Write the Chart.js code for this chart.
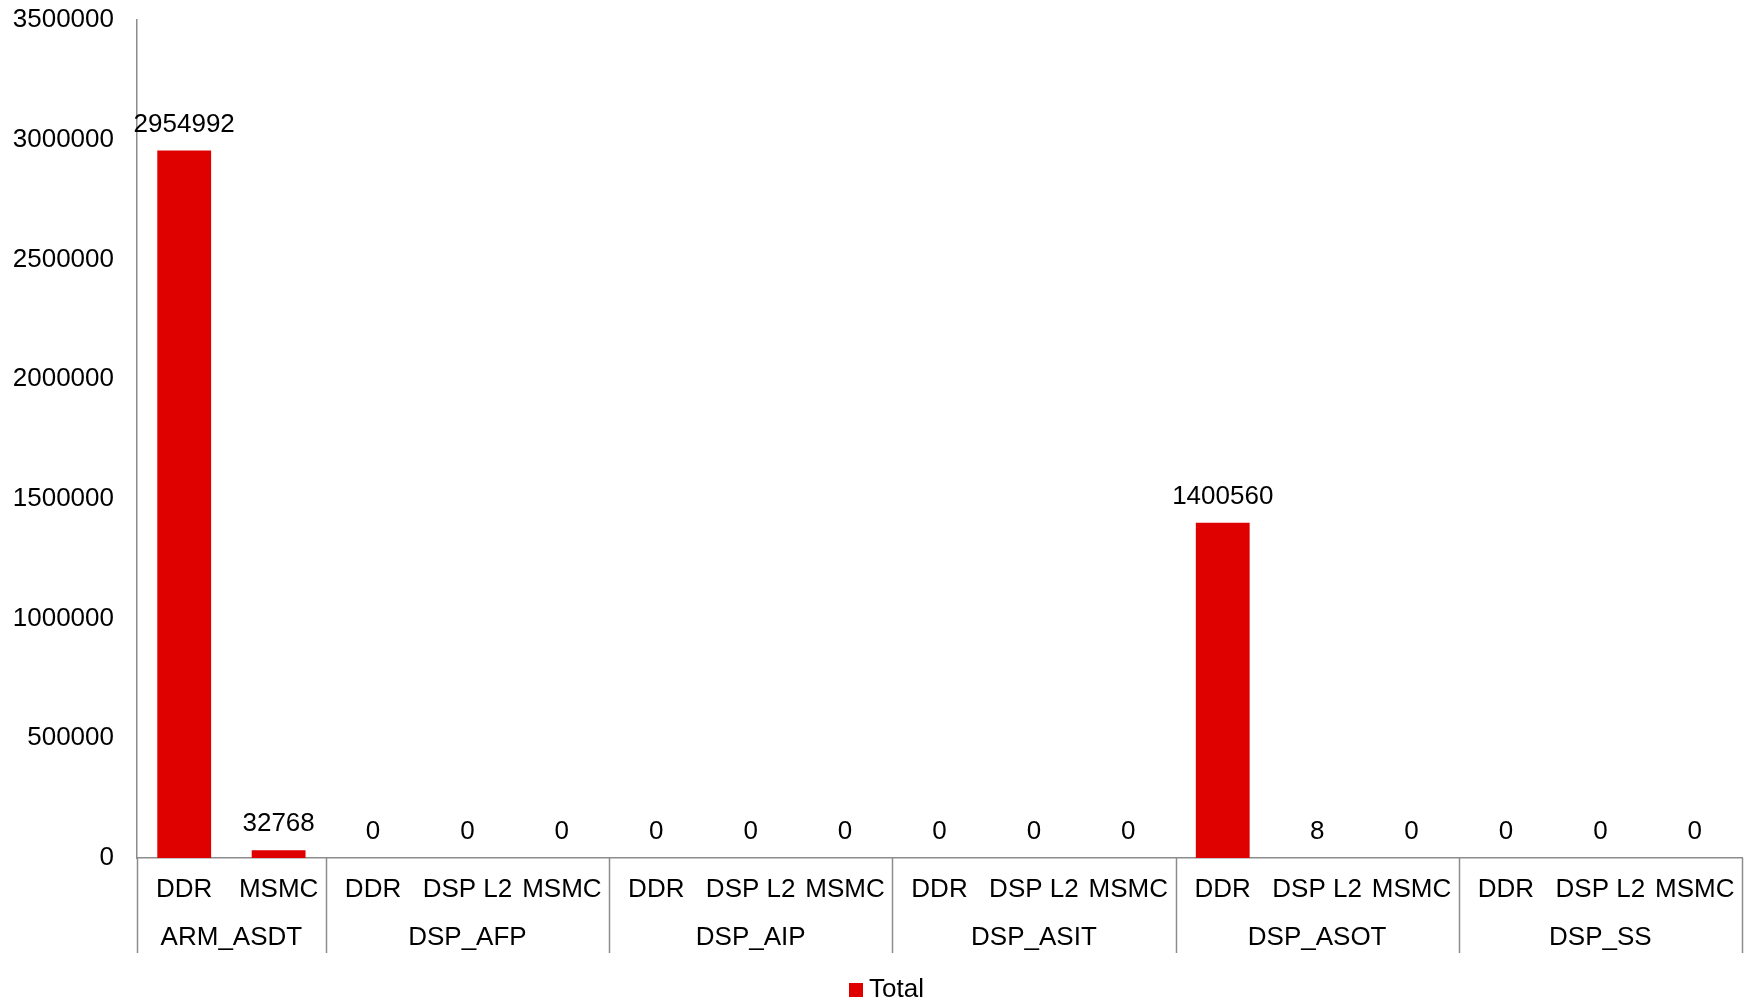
<!DOCTYPE html>
<html>
<head>
<meta charset="utf-8">
<script src="https://cdn.jsdelivr.net/npm/chart.js@4/dist/chart.umd.min.js"></script>
<style>
  html, body { margin: 0; padding: 0; background: #ffffff; }
  #wrap { width: 1748px; height: 1003px; position: relative; }
</style>
</head>
<body>
<div id="wrap"><canvas id="chart"></canvas></div>
<script>
// Memory regions per module, grouped on the x axis
const groups = ['ARM_ASDT', 'DSP_AFP', 'DSP_AIP', 'DSP_ASIT', 'DSP_ASOT', 'DSP_SS'];
const groupSizes = [2, 3, 3, 3, 3, 3];
const regions = [
  'DDR', 'MSMC',
  'DDR', 'DSP L2', 'MSMC',
  'DDR', 'DSP L2', 'MSMC',
  'DDR', 'DSP L2', 'MSMC',
  'DDR', 'DSP L2', 'MSMC',
  'DDR', 'DSP L2', 'MSMC'
];
const totals = [
  2954992, 32768,
  0, 0, 0,
  0, 0, 0,
  0, 0, 0,
  1400560, 8, 0,
  0, 0, 0
];
const yTicks = [0, 500000, 1000000, 1500000, 2000000, 2500000, 3000000, 3500000];

const FONT = '"Liberation Sans", Arial, sans-serif';
const AXIS_GREY = '#8c8c8c';
const BAR_RED = '#df0000';

// Value labels above each bar
const valueLabels = {
  id: 'valueLabels',
  afterDatasetsDraw(chart) {
    const ctx = chart.ctx;
    const meta = chart.getDatasetMeta(0);
    const data = chart.data.datasets[0].data;
    ctx.save();
    ctx.font = '26px ' + FONT;
    ctx.fillStyle = '#000000';
    ctx.textAlign = 'center';
    ctx.textBaseline = 'middle';
    meta.data.forEach((bar, i) => {
      ctx.fillText(String(data[i]), bar.x, bar.y - 26);
    });
    ctx.restore();
  }
};

// Group separators and group names under the region labels
const groupAxis = {
  id: 'groupAxis',
  afterDraw(chart) {
    const ctx = chart.ctx;
    const x = chart.scales.x;
    const area = chart.chartArea;
    const step = (x.right - x.left) / regions.length;
    const lineBottom = area.bottom + 95;
    ctx.save();
    ctx.strokeStyle = AXIS_GREY;
    ctx.lineWidth = 1.5;
    ctx.font = '26px ' + FONT;
    ctx.fillStyle = '#000000';
    ctx.textAlign = 'center';
    ctx.textBaseline = 'middle';
    let start = 0;
    const edges = [x.left];
    groups.forEach((g, gi) => {
      const end = start + groupSizes[gi];
      const x0 = x.left + start * step;
      const x1 = x.left + end * step;
      edges.push(x1);
      ctx.fillText(g, (x0 + x1) / 2, area.bottom + 80);
      start = end;
    });
    edges.forEach(ex => {
      const px = Math.round(ex) + 0.5;
      ctx.beginPath();
      ctx.moveTo(px, area.bottom);
      ctx.lineTo(px, lineBottom);
      ctx.stroke();
    });
    ctx.restore();
  }
};

// Legend drawn under the axis
const legendBox = {
  id: 'legendBox',
  afterDraw(chart) {
    const ctx = chart.ctx;
    const ds = chart.data.datasets[0];
    ctx.save();
    ctx.font = '26px ' + FONT;
    const box = 14, gap = 6;
    const left = 849;
    ctx.fillStyle = ds.backgroundColor;
    ctx.fillRect(left, 983, box, box);
    ctx.fillStyle = '#000000';
    ctx.textAlign = 'left';
    ctx.textBaseline = 'alphabetic';
    ctx.fillText(ds.label, left + box + gap, 997);
    ctx.restore();
  }
};

new Chart(document.getElementById('chart'), {
  type: 'bar',
  data: {
    labels: regions,
    datasets: [{
      label: 'Total',
      data: totals,
      backgroundColor: BAR_RED,
      borderWidth: 0,
      barPercentage: 0.57,
      categoryPercentage: 1.0
    }]
  },
  options: {
    responsive: true,
    maintainAspectRatio: false,
    animation: false,
    devicePixelRatio: 1,
    layout: { padding: { left: 0, right: 6, top: 20, bottom: 50 } },
    plugins: {
      legend: { display: false },
      tooltip: { enabled: false }
    },
    scales: {
      x: {
        grid: { display: false, drawTicks: false },
        border: { display: true, color: AXIS_GREY, width: 1.5 },
        ticks: {
          color: '#000000',
          font: { family: FONT, size: 26 },
          padding: 16,
          maxRotation: 0,
          autoSkip: false
        },
        afterFit(scale) {
          scale.height = 95;
          scale.paddingLeft = 0;
          scale.paddingRight = 0;
        }
      },
      y: {
        min: 0,
        max: 3500000,
        grid: { display: false, drawTicks: false },
        border: { display: true, color: AXIS_GREY, width: 1.5 },
        afterBuildTicks(scale) { scale.ticks = yTicks.map(v => ({ value: v })); },
        ticks: {
          color: '#000000',
          font: { family: FONT, size: 26 },
          padding: 23,
          callback: v => String(v)
        },
        afterFit(scale) {
          scale.width = 137;
          scale.paddingTop = 0;
          scale.paddingBottom = 0;
        }
      }
    }
  },
  plugins: [valueLabels, groupAxis, legendBox]
});
</script>
</body>
</html>
